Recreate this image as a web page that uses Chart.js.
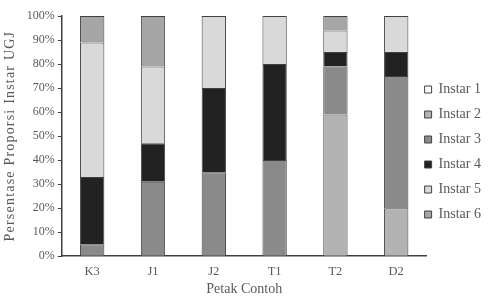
<!DOCTYPE html>
<html>
<head>
<meta charset="utf-8">
<script src="https://cdn.jsdelivr.net/npm/chart.js@4"></script>
<style>
  html, body { margin: 0; padding: 0; background: #fff; }
  #wrap { width: 495px; height: 298px; }
</style>
</head>
<body>
<div id="wrap"><canvas id="myChart"></canvas></div>
<script>
// plots (petak contoh)
const categories = ["K3", "J1", "J2", "T1", "T2", "D2"];

// proportion of each instar per plot, in %
const instar1 = [0, 0, 0, 0, 0, 0];
const instar2 = [0, 0, 0, 0, 59, 20];
const instar3 = [5, 31, 35, 40, 20, 55];
const instar4 = [28, 16, 35, 40, 6, 10];
const instar5 = [56, 32, 30, 20, 9, 15];
const instar6 = [11, 21, 0, 0, 6, 0];

const seriesNames = ["Instar 1", "Instar 2", "Instar 3", "Instar 4", "Instar 5", "Instar 6"];
const seriesColors = ["#ffffff", "#b3b3b3", "#8a8a8a", "#222222", "#d9d9d9", "#a6a6a6"];

const yTicks = [0, 10, 20, 30, 40, 50, 60, 70, 80, 90, 100];

const fontFam = "'Liberation Serif', 'Times New Roman', serif";
const textCol = "#595959";
const lineCol = "#404040";

// legend sits a bit over the right end of the x axis, like the original
const legendNudge = {
    id: "legendNudge",
    beforeInit(chart) {
        const lg = chart.legend;
        const fit = lg.fit;
        lg.fit = function () { fit.call(this); this.width -= 9; };
    },
    afterLayout(chart) {
        const lg = chart.legend;
        lg.left -= 13;
        lg.right -= 13;
        lg.top -= 5;
        lg.bottom -= 5;
        // y title is spaced out a little
        const y = chart.scales.y;
        if (!y._spaced) {
            const draw = y.drawTitle;
            y.drawTitle = function () {
                this.ctx.save();
                this.ctx.letterSpacing = "1.2px";
                draw.apply(this, arguments);
                this.ctx.restore();
            };
            y._spaced = true;
        }
    },
};

const renderChart = () => {
    const values = [instar1, instar2, instar3, instar4, instar5, instar6];
    const datasets = values.map((v, i) => ({
        label: seriesNames[i],
        data: v,
        backgroundColor: seriesColors[i],
        borderColor: lineCol,
        borderWidth: 1,
        categoryPercentage: 0.4,
        barPercentage: 1.0,
    }));

    const ctx = document.getElementById("myChart");
    new Chart(ctx, {
        type: "bar",
        data: { labels: categories, datasets: datasets },
        plugins: [legendNudge],
        options: {
            responsive: true,
            maintainAspectRatio: false,
            animation: false,
            layout: { padding: { left: 2, right: 0, top: 16, bottom: 0 } },
            plugins: {
                tooltip: { enabled: false },
                legend: {
                    position: "right",
                    align: "center",
                    labels: {
                        boxWidth: 7,
                        boxHeight: 7,
                        padding: 11,
                        color: textCol,
                        font: { family: fontFam, size: 14 },
                    },
                },
            },
            scales: {
                x: {
                    stacked: true,
                    grid: { display: false, drawTicks: false },
                    border: { display: true, color: lineCol, width: 1.5 },
                    ticks: { color: textCol, font: { family: fontFam, size: 12.5 }, padding: 8 },
                    title: {
                        display: true,
                        text: "Petak Contoh",
                        color: textCol,
                        font: { family: fontFam, size: 14 },
                        padding: { top: -6, bottom: 0 },
                    },
                },
                y: {
                    stacked: true,
                    min: 0,
                    max: 100,
                    afterBuildTicks: (axis) => { axis.ticks = yTicks.map((v) => ({ value: v })); },
                    grid: { drawOnChartArea: false, drawTicks: true, tickLength: 4, color: lineCol },
                    border: { display: true, color: lineCol, width: 1.5 },
                    ticks: {
                        color: textCol,
                        font: { family: fontFam, size: 12 },
                        padding: 3,
                        callback: (v) => v + "%",
                    },
                    title: {
                        display: true,
                        text: "Persentase Proporsi Instar UGJ",
                        color: textCol,
                        font: { family: fontFam, size: 14 },
                        padding: { top: 0, bottom: 5 },
                    },
                },
            },
        },
    });
};

renderChart();
</script>
</body>
</html>
